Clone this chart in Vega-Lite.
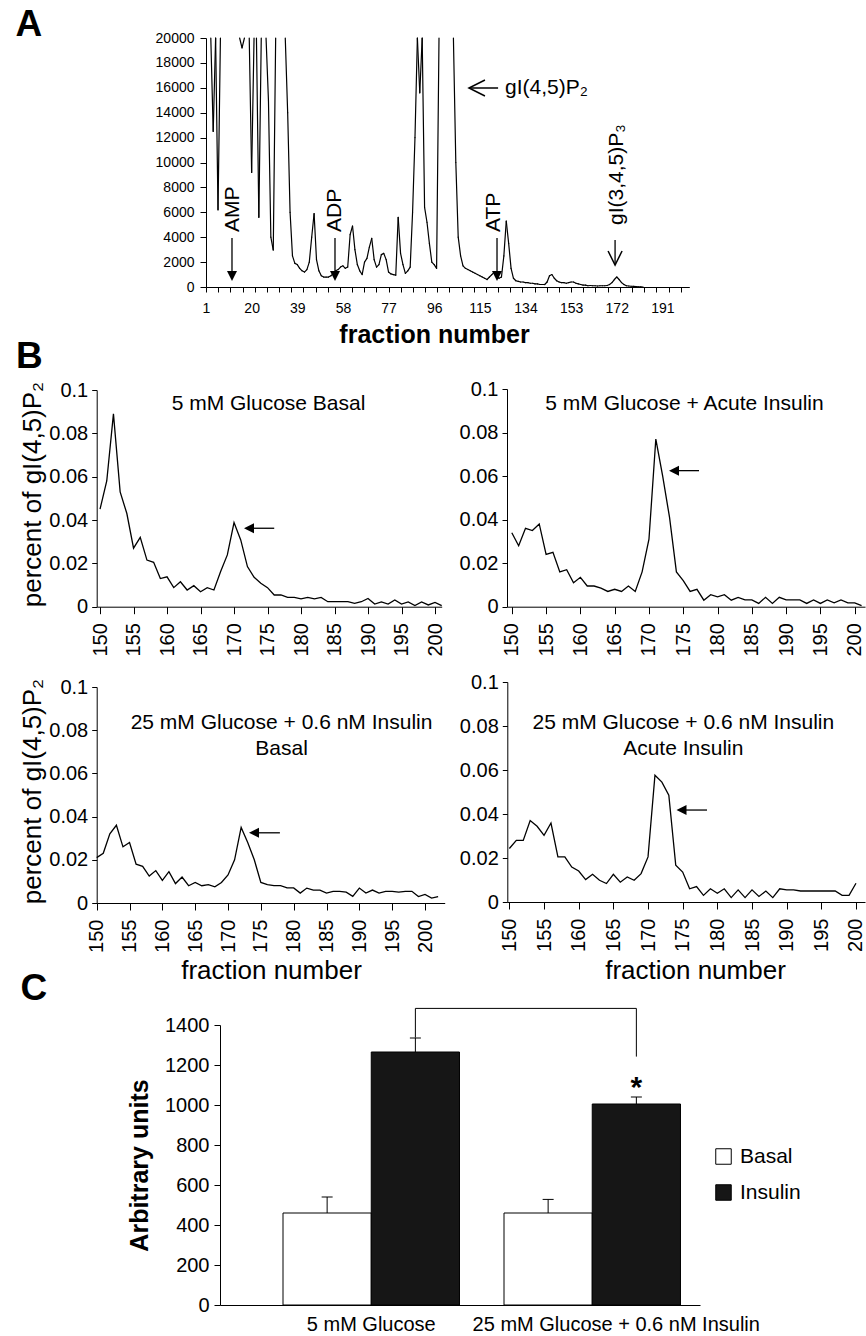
{
"$schema": "https://vega.github.io/schema/vega-lite/v6.json",
"width": 866, "height": 1336, "autosize": "none", "padding": 0, "background": "white",
"config": {
 "view": {"stroke": null},
 "font": "Liberation Sans",
 "axis": {"grid": false, "domainColor": "black", "tickColor": "black", "labelColor": "black", "titleColor": "black", "labelFont": "Liberation Sans", "titleFont": "Liberation Sans", "titleFontWeight": "normal", "labelLimit": 500, "titleLimit": 1000, "labelOverlap": false, "labelFlush": false, "labelBound": false, "domainWidth": 1, "tickWidth": 1},
 "legend": {"labelFont": "Liberation Sans", "labelColor": "black"},
 "text": {"font": "Liberation Sans", "color": "black"}
},
"datasets": {
 "a": [
  {"f":1,"v":25000},{"f":2,"v":25000},{"f":3,"v":25000},{"f":4,"v":12500},{"f":5,"v":25000},{"f":6,"v":6200},{"f":7,"v":25000},{"f":8,"v":25000},{"f":9,"v":25000},{"f":10,"v":25000},
  {"f":11,"v":25000},{"f":12,"v":25000},{"f":13,"v":25000},{"f":14,"v":25000},{"f":15,"v":25000},{"f":16,"v":19200},{"f":17,"v":25000},{"f":18,"v":25000},{"f":19,"v":25000},{"f":20,"v":9200},
  {"f":21,"v":25000},{"f":22,"v":25000},{"f":23,"v":5600},{"f":24,"v":25000},{"f":25,"v":25000},{"f":26,"v":25000},{"f":27,"v":15000},{"f":28,"v":4000},{"f":29,"v":2970},{"f":30,"v":25000},
  {"f":31,"v":25000},{"f":32,"v":25000},{"f":33,"v":25000},{"f":34,"v":25000},{"f":35,"v":14000},{"f":36,"v":6000},{"f":37,"v":2500},{"f":38,"v":1900},{"f":39,"v":1800},{"f":40,"v":1500},
  {"f":41,"v":1300},{"f":42,"v":1200},{"f":43,"v":1400},{"f":44,"v":2000},{"f":45,"v":4000},{"f":46,"v":5900},{"f":47,"v":2200},{"f":48,"v":1300},{"f":49,"v":900},{"f":50,"v":800},
  {"f":51,"v":800},{"f":52,"v":800},{"f":53,"v":900},{"f":54,"v":1100},{"f":55,"v":1300},{"f":56,"v":1400},{"f":57,"v":1600},{"f":58,"v":1700},{"f":59,"v":1500},{"f":60,"v":1600},
  {"f":61,"v":4200},{"f":62,"v":4900},{"f":63,"v":3000},{"f":64,"v":1800},{"f":65,"v":1300},{"f":66,"v":1000},{"f":67,"v":2000},{"f":68,"v":2300},{"f":69,"v":3200},{"f":70,"v":3900},
  {"f":71,"v":2200},{"f":72,"v":1600},{"f":73,"v":1800},{"f":74,"v":2600},{"f":75,"v":2700},{"f":76,"v":2200},{"f":77,"v":1200},{"f":78,"v":1050},{"f":79,"v":1000},{"f":80,"v":950},
  {"f":81,"v":5600},{"f":82,"v":2700},{"f":83,"v":1800},{"f":84,"v":1100},{"f":85,"v":1300},{"f":86,"v":1600},{"f":87,"v":6000},{"f":88,"v":12000},{"f":89,"v":25000},{"f":90,"v":15600},
  {"f":91,"v":25000},{"f":92,"v":6400},{"f":93,"v":5200},{"f":94,"v":3500},{"f":95,"v":2000},{"f":96,"v":1800},{"f":97,"v":1500},{"f":98,"v":25000},{"f":99,"v":25000},{"f":100,"v":25000},
  {"f":101,"v":25000},{"f":102,"v":25000},{"f":103,"v":25000},{"f":104,"v":25000},{"f":105,"v":10000},{"f":106,"v":4000},{"f":107,"v":2500},{"f":108,"v":1700},{"f":109,"v":1500},{"f":110,"v":1400},
  {"f":111,"v":1300},{"f":112,"v":1200},{"f":113,"v":1100},{"f":114,"v":1000},{"f":115,"v":900},{"f":116,"v":800},{"f":117,"v":700},{"f":118,"v":600},{"f":119,"v":800},{"f":120,"v":1000},
  {"f":121,"v":1200},{"f":122,"v":900},{"f":123,"v":700},{"f":124,"v":800},{"f":125,"v":2500},{"f":126,"v":5300},{"f":127,"v":3500},{"f":128,"v":1500},{"f":129,"v":700},{"f":130,"v":500},
  {"f":131,"v":450},{"f":132,"v":400},{"f":133,"v":400},{"f":134,"v":350},{"f":135,"v":350},{"f":136,"v":300},{"f":137,"v":300},{"f":138,"v":250},{"f":139,"v":250},{"f":140,"v":200},
  {"f":141,"v":200},{"f":142,"v":200},{"f":143,"v":400},{"f":144,"v":900},{"f":145,"v":1000},{"f":146,"v":700},{"f":147,"v":500},{"f":148,"v":400},{"f":149,"v":350},{"f":150,"v":350},
  {"f":151,"v":300},{"f":152,"v":350},{"f":153,"v":400},{"f":154,"v":400},{"f":155,"v":300},{"f":156,"v":250},{"f":157,"v":200},{"f":158,"v":150},{"f":159,"v":150},{"f":160,"v":100},
  {"f":161,"v":120},{"f":162,"v":100},{"f":163,"v":100},{"f":164,"v":80},{"f":165,"v":100},{"f":166,"v":100},{"f":167,"v":100},{"f":168,"v":120},{"f":169,"v":200},{"f":170,"v":350},
  {"f":171,"v":600},{"f":172,"v":800},{"f":173,"v":600},{"f":174,"v":350},{"f":175,"v":200},{"f":176,"v":100},{"f":177,"v":80},{"f":178,"v":60},{"f":179,"v":50},{"f":180,"v":30},
  {"f":181,"v":20},{"f":182,"v":10},{"f":183,"v":0}
 ],
 "b1": [
  {"f":150,"p":0.045},{"f":151,"p":0.058},{"f":152,"p":0.089},{"f":153,"p":0.053},{"f":154,"p":0.043},{"f":155,"p":0.027},{"f":156,"p":0.032},{"f":157,"p":0.0215},{"f":158,"p":0.0205},{"f":159,"p":0.013},
  {"f":160,"p":0.0138},{"f":161,"p":0.0088},{"f":162,"p":0.0115},{"f":163,"p":0.0077},{"f":164,"p":0.0097},{"f":165,"p":0.0069},{"f":166,"p":0.0088},{"f":167,"p":0.0077},{"f":168,"p":0.0162},{"f":169,"p":0.0239},
  {"f":170,"p":0.0388},{"f":171,"p":0.0308},{"f":172,"p":0.0185},{"f":173,"p":0.0136},{"f":174,"p":0.0108},{"f":175,"p":0.0088},{"f":176,"p":0.0054},{"f":177,"p":0.0054},{"f":178,"p":0.0043},{"f":179,"p":0.0043},
  {"f":180,"p":0.0036},{"f":181,"p":0.0043},{"f":182,"p":0.0036},{"f":183,"p":0.0043},{"f":184,"p":0.0023},{"f":185,"p":0.0023},{"f":186,"p":0.0023},{"f":187,"p":0.0023},{"f":188,"p":0.0015},{"f":189,"p":0.0023},
  {"f":190,"p":0.0038},{"f":191,"p":0.0012},{"f":192,"p":0.0022},{"f":193,"p":0.0012},{"f":194,"p":0.0031},{"f":195,"p":0.0012},{"f":196,"p":0.0022},{"f":197,"p":0.0005},{"f":198,"p":0.0022},{"f":199,"p":0.0008},
  {"f":200,"p":0.002},{"f":201,"p":0.0005}
 ],
 "b2": [
  {"f":150,"p":0.034},{"f":151,"p":0.028},{"f":152,"p":0.036},{"f":153,"p":0.035},{"f":154,"p":0.038},{"f":155,"p":0.024},{"f":156,"p":0.025},{"f":157,"p":0.016},{"f":158,"p":0.017},{"f":159,"p":0.011},
  {"f":160,"p":0.0135},{"f":161,"p":0.0095},{"f":162,"p":0.0095},{"f":163,"p":0.0085},{"f":164,"p":0.007},{"f":165,"p":0.008},{"f":166,"p":0.007},{"f":167,"p":0.0095},{"f":168,"p":0.007},{"f":169,"p":0.016},
  {"f":170,"p":0.031},{"f":171,"p":0.077},{"f":172,"p":0.06},{"f":173,"p":0.041},{"f":174,"p":0.016},{"f":175,"p":0.012},{"f":176,"p":0.007},{"f":177,"p":0.008},{"f":178,"p":0.003},{"f":179,"p":0.0055},
  {"f":180,"p":0.0045},{"f":181,"p":0.0055},{"f":182,"p":0.003},{"f":183,"p":0.0043},{"f":184,"p":0.0031},{"f":185,"p":0.0031},{"f":186,"p":0.0015},{"f":187,"p":0.0043},{"f":188,"p":0.0015},{"f":189,"p":0.0043},
  {"f":190,"p":0.0031},{"f":191,"p":0.0031},{"f":192,"p":0.0031},{"f":193,"p":0.0015},{"f":194,"p":0.0031},{"f":195,"p":0.0015},{"f":196,"p":0.0031},{"f":197,"p":0.0018},{"f":198,"p":0.0031},{"f":199,"p":0.0018},
  {"f":200,"p":0.0018},{"f":201,"p":0.0005}
 ],
 "b3": [
  {"f":150,"p":0.021},{"f":151,"p":0.023},{"f":152,"p":0.032},{"f":153,"p":0.036},{"f":154,"p":0.026},{"f":155,"p":0.028},{"f":156,"p":0.018},{"f":157,"p":0.017},{"f":158,"p":0.0125},{"f":159,"p":0.015},
  {"f":160,"p":0.0105},{"f":161,"p":0.0145},{"f":162,"p":0.009},{"f":163,"p":0.012},{"f":164,"p":0.008},{"f":165,"p":0.0095},{"f":166,"p":0.008},{"f":167,"p":0.0085},{"f":168,"p":0.0075},{"f":169,"p":0.0095},
  {"f":170,"p":0.013},{"f":171,"p":0.02},{"f":172,"p":0.035},{"f":173,"p":0.028},{"f":174,"p":0.02},{"f":175,"p":0.0095},{"f":176,"p":0.0085},{"f":177,"p":0.008},{"f":178,"p":0.008},{"f":179,"p":0.007},
  {"f":180,"p":0.007},{"f":181,"p":0.0046},{"f":182,"p":0.0069},{"f":183,"p":0.006},{"f":184,"p":0.006},{"f":185,"p":0.0046},{"f":186,"p":0.0054},{"f":187,"p":0.0054},{"f":188,"p":0.005},{"f":189,"p":0.0031},
  {"f":190,"p":0.0069},{"f":191,"p":0.0046},{"f":192,"p":0.006},{"f":193,"p":0.0046},{"f":194,"p":0.0054},{"f":195,"p":0.0054},{"f":196,"p":0.005},{"f":197,"p":0.0054},{"f":198,"p":0.0054},{"f":199,"p":0.003},
  {"f":200,"p":0.004},{"f":201,"p":0.0023},{"f":202,"p":0.003}
 ],
 "b4": [
  {"f":150,"p":0.0243},{"f":151,"p":0.028},{"f":152,"p":0.028},{"f":153,"p":0.037},{"f":154,"p":0.0344},{"f":155,"p":0.0303},{"f":156,"p":0.0359},{"f":157,"p":0.0205},{"f":158,"p":0.0205},{"f":159,"p":0.0159},
  {"f":160,"p":0.0141},{"f":161,"p":0.0102},{"f":162,"p":0.0126},{"f":163,"p":0.0099},{"f":164,"p":0.0084},{"f":165,"p":0.0126},{"f":166,"p":0.009},{"f":167,"p":0.0114},{"f":168,"p":0.0099},{"f":169,"p":0.0129},
  {"f":170,"p":0.0205},{"f":171,"p":0.0576},{"f":172,"p":0.0545},{"f":173,"p":0.0485},{"f":174,"p":0.0167},{"f":175,"p":0.0136},{"f":176,"p":0.006},{"f":177,"p":0.007},{"f":178,"p":0.003},{"f":179,"p":0.006},
  {"f":180,"p":0.004},{"f":181,"p":0.006},{"f":182,"p":0.002},{"f":183,"p":0.0055},{"f":184,"p":0.002},{"f":185,"p":0.0055},{"f":186,"p":0.0025},{"f":187,"p":0.005},{"f":188,"p":0.002},{"f":189,"p":0.006},
  {"f":190,"p":0.0055},{"f":191,"p":0.0055},{"f":192,"p":0.005},{"f":193,"p":0.005},{"f":194,"p":0.005},{"f":195,"p":0.005},{"f":196,"p":0.005},{"f":197,"p":0.005},{"f":198,"p":0.003},{"f":199,"p":0.003},
  {"f":200,"p":0.0085}
 ],
 "bars": [
  {"g":"5 mM Glucose","c":"Basal","v":460,"hi":540},
  {"g":"5 mM Glucose","c":"Insulin","v":1265,"hi":1335},
  {"g":"25 mM Glucose + 0.6 nM Insulin","c":"Basal","v":460,"hi":528},
  {"g":"25 mM Glucose + 0.6 nM Insulin","c":"Insulin","v":1005,"hi":1040}
 ]
},
"layer": [
 {
  "layer": [
   {
    "data": {"name": "a"},
    "transform": [
     {"window": [{"op": "lead", "field": "v", "as": "v2"}, {"op": "lead", "field": "f", "as": "f2"}], "sort": [{"field": "f", "order": "ascending"}]},
     {"filter": "datum.f2 != null && !(datum.v > 20000 && datum.v2 > 20000)"}
    ],
    "mark": {"type": "rule", "color": "black", "strokeWidth": 1.2, "strokeCap": "round"},
    "encoding": {
     "x": {"field": "f", "type": "quantitative", "scale": {"domain": [1, 202.2], "range": [206, 689.3], "nice": false, "zero": false},
      "axis": {"orient": "bottom", "offset": -1049, "values": [1,6.07,11.13,16.2,21.27,26.34,31.4,36.47,41.54,46.6,51.67,56.74,61.8,66.87,71.94,77.01,82.07,87.14,92.21,97.27,102.34,107.41,112.47,117.54,122.61,127.68,132.74,137.81,142.88,147.94,153.01,158.08,163.14,168.21,173.28,178.35,183.41,188.48,193.55,198.61], "labels": false, "tickSize": 5, "title": null, "domain": true}},
     "x2": {"field": "f2"},
     "y": {"field": "v", "type": "quantitative", "scale": {"domain": [0, 20000], "range": [287, 38], "nice": false, "clamp": true},
      "axis": {"orient": "left", "offset": -206, "values": [0,2000,4000,6000,8000,10000,12000,14000,16000,18000,20000], "format": "d", "labelFontSize": 14, "tickSize": 6, "labelPadding": 6, "title": "A", "titleAngle": 0, "titleX": -191, "titleY": 35, "titleAlign": "left", "titleBaseline": "alphabetic", "titleFontSize": 37, "titleFontWeight": "bold"}},
     "y2": {"field": "v2"}
    }
   },
   {
    "data": {"values": [{"lab": "AMP", "f": 12.2, "tv": 4418}, {"lab": "ADP", "f": 54.9, "tv": 4418}, {"lab": "ATP", "f": 120.9, "tv": 4418}, {"lab": "gI(3,4,5)P₃", "f": 172.3, "tv": 4980}]},
    "mark": {"type": "text", "angle": 270, "align": "left", "baseline": "middle", "fontSize": 21},
    "encoding": {
     "x": {"field": "f", "type": "quantitative",
      "axis": {"orient": "bottom", "offset": -1049, "values": [1,20,39,58,77,96,115,134,153,172,191], "format": "d", "ticks": false, "tickSize": 0, "domain": false, "labelFontSize": 14, "labelPadding": 14, "title": "fraction number", "titleFontSize": 25, "titleFontWeight": "bold", "titleX": 434, "titleY": 55, "titleAlign": "center", "titleBaseline": "alphabetic"}},
     "y": {"field": "tv", "type": "quantitative"},
     "text": {"field": "lab"}
    }
   },
   {
    "data": {"values": [{"f": 11.82, "s1": 3936, "s2": 884}, {"f": 54.7, "s1": 3936, "s2": 884}, {"f": 122.15, "s1": 3936, "s2": 884}, {"f": 171.3, "s1": 3775, "s2": 1767}]},
    "mark": {"type": "rule", "color": "black", "strokeWidth": 1.3},
    "encoding": {
     "x": {"field": "f", "type": "quantitative", "axis": null},
     "y": {"field": "s1", "type": "quantitative"},
     "y2": {"field": "s2"}
    }
   },
   {
    "data": {"values": [{"f": 11.82, "h": 884}, {"f": 54.7, "h": 884}, {"f": 122.15, "h": 884}]},
    "mark": {"type": "point", "shape": "M-1,-1L1,-1L0,1Z", "size": 100, "filled": true, "color": "black", "opacity": 1, "strokeWidth": 0},
    "encoding": {
     "x": {"field": "f", "type": "quantitative", "axis": null},
     "y": {"field": "h", "type": "quantitative"}
    }
   },
   {
    "data": {"values": [{"f": 171.3, "h": 2329}]},
    "mark": {"type": "point", "shape": "M-1,-1L0,1L1,-1", "size": 196, "filled": false, "color": "black", "opacity": 1, "strokeWidth": 1.5},
    "encoding": {
     "x": {"field": "f", "type": "quantitative", "axis": null},
     "y": {"field": "h", "type": "quantitative"}
    }
   },
   {
    "data": {"values": [{"lab": "gI(4,5)P₂", "f": 125.5, "v": 15984}]},
    "mark": {"type": "text", "align": "left", "baseline": "middle", "fontSize": 21},
    "encoding": {
     "x": {"field": "f", "type": "quantitative", "axis": null},
     "y": {"field": "v", "type": "quantitative"},
     "text": {"field": "lab"}
    }
   },
   {
    "data": {"values": [{"f1": 110.5, "f2": 122.6, "v": 15984}]},
    "mark": {"type": "rule", "color": "black", "strokeWidth": 1.5},
    "encoding": {
     "x": {"field": "f1", "type": "quantitative", "axis": null},
     "x2": {"field": "f2"},
     "y": {"field": "v", "type": "quantitative"}
    }
   },
   {
    "data": {"values": [{"f": 113.8, "v": 15984}]},
    "mark": {"type": "point", "shape": "M1,-1L-1,0L1,1", "size": 256, "filled": false, "color": "black", "opacity": 1, "strokeWidth": 1.5},
    "encoding": {
     "x": {"field": "f", "type": "quantitative", "axis": null},
     "y": {"field": "v", "type": "quantitative"}
    }
   }
  ],
  "resolve": {"axis": {"x": "independent"}}
 },
 {
  "layer": [
   {
    "data": {"name": "b1"},
    "mark": {"type": "line", "color": "black", "strokeWidth": 1.3},
    "encoding": {
     "x": {"field": "f", "type": "quantitative", "scale": {"domain": [149.5, 201], "range": [96.7, 441.7], "nice": false, "zero": false},
      "axis": {"orient": "bottom", "offset": -729.3, "values": [150,155,160,165,170,175,180,185,190,195,200], "format": "d", "labelAngle": 270, "labelFontSize": 20, "tickSize": 7, "labelPadding": 9, "title": "B", "titleAngle": 0, "titleX": 15.5, "titleY": -239.7, "titleAlign": "left", "titleBaseline": "alphabetic", "titleFontSize": 37, "titleFontWeight": "bold"}},
     "y": {"field": "p", "type": "quantitative", "scale": {"domain": [0, 0.1], "range": [606.7, 390], "nice": false},
      "axis": {"orient": "left", "offset": -96.7, "values": [0,0.02,0.04,0.06,0.08,0.1], "format": "~g", "labelFontSize": 20, "tickSize": 5, "labelPadding": 4, "title": "percent of gI(4,5)P₂", "titleFontSize": 26, "titleAngle": 270, "titleX": -56, "titleY": 494, "titleAlign": "center", "titleBaseline": "alphabetic"}}
    }
   },
   {
    "data": {"values": [{"t": "5 mM Glucose Basal", "f": 175.15, "p": 0.0935}]},
    "mark": {"type": "text", "fontSize": 21, "align": "center", "baseline": "middle"},
    "encoding": {"x": {"field": "f", "type": "quantitative"}, "y": {"field": "p", "type": "quantitative"}, "text": {"field": "t"}}
   },
   {
    "data": {"values": [{"f1": 172.23, "f2": 176.0, "p": 0.0362}]},
    "mark": {"type": "rule", "color": "black", "strokeWidth": 1.3},
    "encoding": {"x": {"field": "f1", "type": "quantitative"}, "x2": {"field": "f2"}, "y": {"field": "p", "type": "quantitative"}}
   },
   {
    "data": {"values": [{"f": 172.23, "p": 0.0362}]},
    "mark": {"type": "point", "shape": "M1,-1L-1,0L1,1Z", "size": 100, "filled": true, "color": "black", "opacity": 1, "strokeWidth": 0},
    "encoding": {"x": {"field": "f", "type": "quantitative"}, "y": {"field": "p", "type": "quantitative"}}
   }
  ]
 },
 {
  "layer": [
   {
    "data": {"name": "b2"},
    "mark": {"type": "line", "color": "black", "strokeWidth": 1.3},
    "encoding": {
     "x": {"field": "f", "type": "quantitative", "scale": {"domain": [149.3, 201.5], "range": [507, 865], "nice": false, "zero": false},
      "axis": {"orient": "bottom", "offset": -729.3, "values": [150,155,160,165,170,175,180,185,190,195,200], "format": "d", "labelAngle": 270, "labelFontSize": 20, "tickSize": 7, "labelPadding": 9, "title": null}},
     "y": {"field": "p", "type": "quantitative", "scale": {"domain": [0, 0.1], "range": [606.7, 389], "nice": false},
      "axis": {"orient": "left", "offset": -507, "values": [0,0.02,0.04,0.06,0.08,0.1], "format": "~g", "labelFontSize": 20, "tickSize": 5, "labelPadding": 4, "title": null}}
    }
   },
   {
    "data": {"values": [{"t": "5 mM Glucose + Acute Insulin", "f": 175.18, "p": 0.0931}]},
    "mark": {"type": "text", "fontSize": 21, "align": "center", "baseline": "middle"},
    "encoding": {"x": {"field": "f", "type": "quantitative"}, "y": {"field": "p", "type": "quantitative"}, "text": {"field": "t"}}
   },
   {
    "data": {"values": [{"f1": 173.65, "f2": 177.3, "p": 0.0625}]},
    "mark": {"type": "rule", "color": "black", "strokeWidth": 1.3},
    "encoding": {"x": {"field": "f1", "type": "quantitative"}, "x2": {"field": "f2"}, "y": {"field": "p", "type": "quantitative"}}
   },
   {
    "data": {"values": [{"f": 173.65, "p": 0.0625}]},
    "mark": {"type": "point", "shape": "M1,-1L-1,0L1,1Z", "size": 100, "filled": true, "color": "black", "opacity": 1, "strokeWidth": 0},
    "encoding": {"x": {"field": "f", "type": "quantitative"}, "y": {"field": "p", "type": "quantitative"}}
   }
  ]
 },
 {
  "layer": [
   {
    "data": {"name": "b3"},
    "mark": {"type": "line", "color": "black", "strokeWidth": 1.3},
    "encoding": {
     "x": {"field": "f", "type": "quantitative", "scale": {"domain": [150, 203], "range": [96.7, 444.7], "nice": false, "zero": false},
      "axis": {"orient": "bottom", "offset": -433, "values": [150,155,160,165,170,175,180,185,190,195,200], "format": "d", "labelAngle": 270, "labelFontSize": 20, "tickSize": 7, "labelPadding": 9, "title": "fraction number", "titleFontSize": 26, "titleAngle": 0, "titleX": 271, "titleY": 75, "titleAlign": "center", "titleBaseline": "alphabetic"}},
     "y": {"field": "p", "type": "quantitative", "scale": {"domain": [0, 0.1], "range": [903, 687], "nice": false},
      "axis": {"orient": "left", "offset": -96.7, "values": [0,0.02,0.04,0.06,0.08,0.1], "format": "~g", "labelFontSize": 20, "tickSize": 5, "labelPadding": 4, "title": "percent of gI(4,5)P₂", "titleFontSize": 26, "titleAngle": 270, "titleX": -56, "titleY": 791, "titleAlign": "center", "titleBaseline": "alphabetic"}}
    }
   },
   {
    "data": {"values": [{"t": "25 mM Glucose + 0.6 nM Insulin\nBasal", "f": 178.15, "p": 0.0833}]},
    "mark": {"type": "text", "fontSize": 21, "align": "center", "baseline": "middle", "lineBreak": "\n", "lineHeight": 26},
    "encoding": {"x": {"field": "f", "type": "quantitative"}, "y": {"field": "p", "type": "quantitative"}, "text": {"field": "t"}}
   },
   {
    "data": {"values": [{"f1": 173.96, "f2": 177.9, "p": 0.0325}]},
    "mark": {"type": "rule", "color": "black", "strokeWidth": 1.3},
    "encoding": {"x": {"field": "f1", "type": "quantitative"}, "x2": {"field": "f2"}, "y": {"field": "p", "type": "quantitative"}}
   },
   {
    "data": {"values": [{"f": 173.96, "p": 0.0325}]},
    "mark": {"type": "point", "shape": "M1,-1L-1,0L1,1Z", "size": 100, "filled": true, "color": "black", "opacity": 1, "strokeWidth": 0},
    "encoding": {"x": {"field": "f", "type": "quantitative"}, "y": {"field": "p", "type": "quantitative"}}
   }
  ]
 },
 {
  "layer": [
   {
    "data": {"name": "b4"},
    "mark": {"type": "line", "color": "black", "strokeWidth": 1.3},
    "encoding": {
     "x": {"field": "f", "type": "quantitative", "scale": {"domain": [149.7, 201.3], "range": [507.3, 865], "nice": false, "zero": false},
      "axis": {"orient": "bottom", "offset": -434, "values": [150,155,160,165,170,175,180,185,190,195,200], "format": "d", "labelAngle": 270, "labelFontSize": 20, "tickSize": 7, "labelPadding": 9, "title": "fraction number", "titleFontSize": 26, "titleAngle": 0, "titleX": 695, "titleY": 76, "titleAlign": "center", "titleBaseline": "alphabetic"}},
     "y": {"field": "p", "type": "quantitative", "scale": {"domain": [0, 0.1], "range": [902, 682], "nice": false},
      "axis": {"orient": "left", "offset": -507.3, "values": [0,0.02,0.04,0.06,0.08,0.1], "format": "~g", "labelFontSize": 20, "tickSize": 5, "labelPadding": 4, "title": null}}
    }
   },
   {
    "data": {"values": [{"t": "25 mM Glucose + 0.6 nM Insulin\nAcute Insulin", "f": 175.09, "p": 0.0814}]},
    "mark": {"type": "text", "fontSize": 21, "align": "center", "baseline": "middle", "lineBreak": "\n", "lineHeight": 26},
    "encoding": {"x": {"field": "f", "type": "quantitative"}, "y": {"field": "p", "type": "quantitative"}, "text": {"field": "t"}}
   },
   {
    "data": {"values": [{"f1": 174.83, "f2": 178.51, "p": 0.0418}]},
    "mark": {"type": "rule", "color": "black", "strokeWidth": 1.3},
    "encoding": {"x": {"field": "f1", "type": "quantitative"}, "x2": {"field": "f2"}, "y": {"field": "p", "type": "quantitative"}}
   },
   {
    "data": {"values": [{"f": 174.83, "p": 0.0418}]},
    "mark": {"type": "point", "shape": "M1,-1L-1,0L1,1Z", "size": 100, "filled": true, "color": "black", "opacity": 1, "strokeWidth": 0},
    "encoding": {"x": {"field": "f", "type": "quantitative"}, "y": {"field": "p", "type": "quantitative"}}
   }
  ]
 },
 {
  "layer": [
   {
    "data": {"name": "bars"},
    "mark": {"type": "bar", "stroke": "black", "strokeWidth": 1},
    "encoding": {
     "x": {"field": "g", "type": "nominal", "sort": null,
      "scale": {"domain": ["5 mM Glucose", "25 mM Glucose + 0.6 nM Insulin"], "range": [220, 700], "paddingInner": 0.2014, "paddingOuter": 0.1867, "align": 0.7636},
      "axis": {"orient": "bottom", "offset": -31, "ticks": false, "labelFontSize": 20, "labelPadding": 9, "labelAngle": 0,
       "labelOffset": {"condition": {"test": "datum.value === '25 mM Glucose + 0.6 nM Insulin'", "value": 24}, "value": 0},
       "title": "C", "titleAngle": 0, "titleX": 20, "titleY": -306, "titleAlign": "left", "titleBaseline": "alphabetic", "titleFontSize": 37, "titleFontWeight": "bold"}},
     "xOffset": {"field": "c", "type": "nominal", "scale": {"domain": ["Basal", "Insulin"], "paddingInner": 0, "paddingOuter": 0}},
     "y": {"field": "v", "type": "quantitative", "scale": {"domain": [0, 1400], "range": [1305, 1025], "nice": false},
      "axis": {"orient": "left", "offset": -220, "values": [0,200,400,600,800,1000,1200,1400], "format": "d", "labelFontSize": 20, "tickSize": 6, "labelPadding": 5, "title": "Arbitrary units", "titleFontSize": 25, "titleFontWeight": "bold", "titleAngle": 270, "titleX": -73, "titleY": 1165, "titleAlign": "center", "titleBaseline": "alphabetic"}},
     "color": {"field": "c", "type": "nominal", "scale": {"domain": ["Basal", "Insulin"], "range": ["#ffffff", "#161616"]},
      "legend": {"orient": "none", "legendX": 713, "legendY": 1146, "title": null, "symbolType": "square", "symbolSize": 240, "symbolStrokeColor": "black", "symbolStrokeWidth": 1, "labelFontSize": 21, "labelOffset": 6, "rowPadding": 14, "padding": 0}}
    }
   },
   {
    "data": {"name": "bars"},
    "mark": {"type": "rule", "color": "black", "strokeWidth": 1},
    "encoding": {
     "x": {"field": "g", "type": "nominal", "sort": null},
     "xOffset": {"field": "c", "type": "nominal"},
     "y": {"field": "v", "type": "quantitative"},
     "y2": {"field": "hi"}
    }
   },
   {
    "data": {"name": "bars"},
    "mark": {"type": "tick", "color": "black", "size": 11, "thickness": 1, "opacity": 1, "orient": "horizontal"},
    "encoding": {
     "x": {"field": "g", "type": "nominal", "sort": null},
     "xOffset": {"field": "c", "type": "nominal"},
     "y": {"field": "hi", "type": "quantitative"}
    }
   },
   {
    "data": {"values": [{"g": "5 mM Glucose", "v": 1337, "o": 1}, {"g": "5 mM Glucose", "v": 1483, "o": 2}, {"g": "25 mM Glucose + 0.6 nM Insulin", "v": 1483, "o": 3}, {"g": "25 mM Glucose + 0.6 nM Insulin", "v": 1242, "o": 4}]},
    "mark": {"type": "line", "color": "black", "strokeWidth": 1},
    "encoding": {
     "x": {"field": "g", "type": "nominal", "sort": null, "bandPosition": 0.75},
     "y": {"field": "v", "type": "quantitative"},
     "order": {"field": "o", "type": "quantitative"}
    }
   },
   {
    "data": {"values": [{"g": "25 mM Glucose + 0.6 nM Insulin", "c": "Insulin", "v": 1040, "t": "*"}]},
    "mark": {"type": "text", "fontSize": 30, "fontWeight": "bold", "baseline": "alphabetic", "align": "center"},
    "encoding": {
     "x": {"field": "g", "type": "nominal", "sort": null},
     "xOffset": {"field": "c", "type": "nominal"},
     "y": {"field": "v", "type": "quantitative"},
     "text": {"field": "t"}
    }
   }
  ]
 }
],
"resolve": {"scale": {"x": "independent", "y": "independent"}, "axis": {"x": "independent", "y": "independent"}}
}
